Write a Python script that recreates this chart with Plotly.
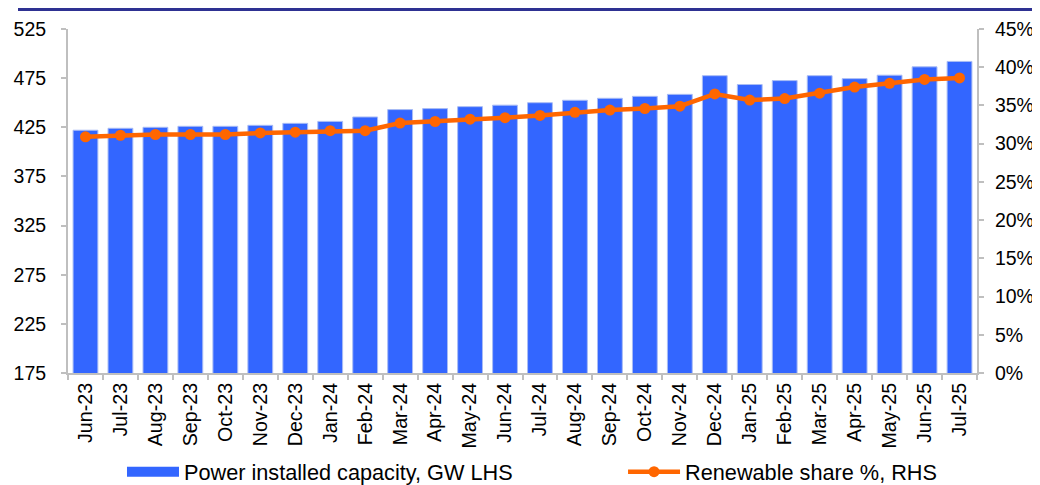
import plotly.graph_objects as go

months = ["Jun-23", "Jul-23", "Aug-23", "Sep-23", "Oct-23", "Nov-23", "Dec-23",
          "Jan-24", "Feb-24", "Mar-24", "Apr-24", "May-24", "Jun-24", "Jul-24",
          "Aug-24", "Sep-24", "Oct-24", "Nov-24", "Dec-24", "Jan-25", "Feb-25",
          "Mar-25", "Apr-25", "May-25", "Jun-25", "Jul-25"]
capacity_gw = [422, 424, 425, 426, 426, 427, 429, 431, 435.5, 443, 444, 446, 447.5, 450,
               452.5, 454.5, 456.5, 458.5, 477.5, 468.5, 472.5, 477.5, 474.5, 478, 486.5, 492]
renewable_pct = [30.9, 31.1, 31.2, 31.2, 31.2, 31.4, 31.5, 31.7, 31.7, 32.7, 32.9, 33.2, 33.4,
                 33.7, 34.1, 34.4, 34.6, 34.9, 36.5, 35.7, 35.9, 36.6, 37.4, 37.9, 38.4, 38.6]
left_ticks = [175, 225, 275, 325, 375, 425, 475, 525]
right_ticks = [0, 5, 10, 15, 20, 25, 30, 35, 40, 45]

FONT = "Liberation Sans, Arial, sans-serif"
BLUE = "#3366FF"
ORANGE = "#FF6600"

fig = go.Figure()
fig.add_trace(go.Bar(
    x=months, y=capacity_gw, name="Power installed capacity, GW LHS",
    marker=dict(color=BLUE, line=dict(color="#A9BCF5", width=1)),
    yaxis="y", showlegend=False,
))
# legend-only entry giving the wide box symbol of the original legend
fig.add_trace(go.Scatter(
    x=[None], y=[None], name="Power installed capacity, GW LHS",
    mode="lines", line=dict(color=BLUE, width=10), legend="legend",
))
fig.add_trace(go.Scatter(
    x=months, y=renewable_pct, name="Renewable share %, RHS",
    mode="lines+markers",
    line=dict(color=ORANGE, width=4.5),
    marker=dict(color=ORANGE, size=11),
    yaxis="y2", legend="legend2",
))

axis_line = dict(showline=True, linecolor="#BFBFBF", linewidth=2, ticks="outside",
                 ticklen=5, tickcolor="#BFBFBF", tickwidth=1.5, showgrid=False,
                 zeroline=False, automargin=False)

leg_common = dict(orientation="h", xanchor="left", y=-0.288, yanchor="middle",
                  font=dict(size=21.7), bgcolor="rgba(0,0,0,0)", itemwidth=52)

# page body has an 8px margin: figure is sized/margined so the plot lands where the original is
PLOT_TOP_PX = 21
PLOT_H_PX = 477 - 21 - 112
fig.update_layout(
    width=1032, height=477,
    margin=dict(l=60, r=63, t=PLOT_TOP_PX, b=112, autoexpand=False),
    plot_bgcolor="white", paper_bgcolor="white",
    font=dict(family=FONT, size=19.5, color="black"),
    bargap=0.29,
    showlegend=True,
    legend=dict(x=0.0594, **leg_common),
    legend2=dict(x=0.6106, **leg_common),
    xaxis=dict(**axis_line, tickangle=-90, tickson="boundaries", type="category",
               range=[-0.5, len(months) - 0.5], autorange=False,
               tickfont=dict(size=19.7)),
    yaxis=dict(**axis_line, range=[175, 525], tickvals=left_ticks,
               ticktext=[str(v) for v in left_ticks], ticklabelstandoff=11),
    yaxis2=dict(**axis_line, overlaying="y", side="right", range=[0, 45],
                tickvals=right_ticks, ticktext=[f"{v}%" for v in right_ticks],
                ticklabelstandoff=7),
    shapes=[dict(type="line", xref="paper", yref="paper", x0=-0.055, x1=1.08,
                 y0=1 + PLOT_TOP_PX / PLOT_H_PX, y1=1 + PLOT_TOP_PX / PLOT_H_PX,
                 line=dict(color="#2E3192", width=6))],
)

fig.write_html("out.html")
